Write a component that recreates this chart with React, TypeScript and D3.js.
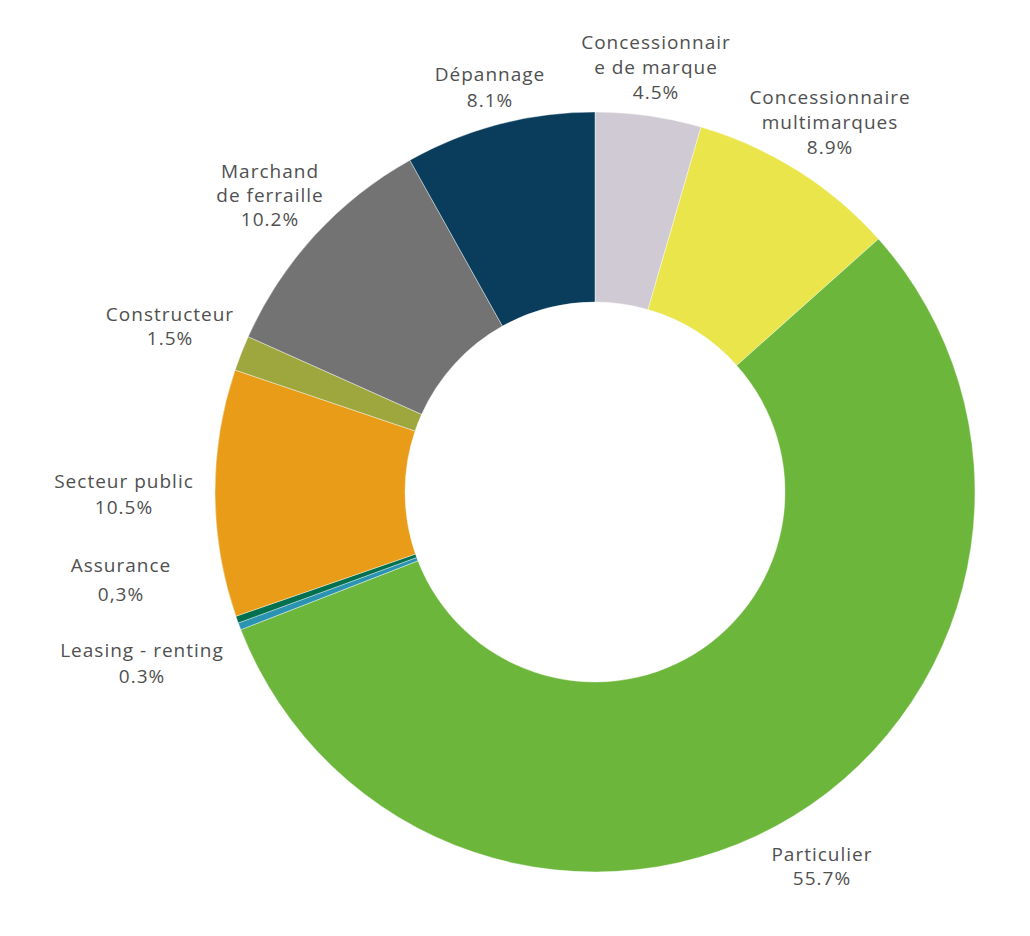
import React from 'react';
import * as d3 from 'd3';

// slices clockwise from 12 o'clock
const categories = [
  'Concessionnaire de marque',
  'Concessionnaire multimarques',
  'Particulier',
  'Leasing - renting',
  'Assurance',
  'Secteur public',
  'Constructeur',
  'Marchand de ferraille',
  'Dépannage',
];
const values = [4.5, 8.9, 55.7, 0.3, 0.3, 10.5, 1.5, 10.2, 8.1];
const valueLabels = ['4.5%', '8.9%', '55.7%', '0.3%', '0,3%', '10.5%', '1.5%', '10.2%', '8.1%'];
const labelLines = [
  ['Concessionnair', 'e de marque'],
  ['Concessionnaire', 'multimarques'],
  ['Particulier'],
  ['Leasing - renting'],
  ['Assurance'],
  ['Secteur public'],
  ['Constructeur'],
  ['Marchand', 'de ferraille'],
  ['Dépannage'],
];
const colors = ['#cfcad3', '#e9e54b', '#6cb73b', '#2a93b1', '#00704f', '#e89c17', '#9ea73e', '#737373', '#0a3d5c'];

// label placement (center x, first line y, line gap)
const labelPos: [number, number, number][] = [
  [656, 49, 25],
  [830, 104, 25],
  [822, 861, 24],
  [142, 657, 26],
  [121, 572, 29],
  [124, 488, 26],
  [170, 321, 24],
  [270, 178, 24],
  [490, 81, 26],
];

const width = 1030;
const height = 936;
const cx = 595;
const cy = 492;
const outerR = 380;
const innerR = 190;

export default function App() {
  const pie = d3.pie<number>().sort(null).value((d) => d);
  const arcs = pie(values);
  const arc = d3.arc<d3.PieArcDatum<number>>().innerRadius(innerR).outerRadius(outerR);

  return (
    <svg width={width} height={height} style={{ position: 'absolute', left: 0, top: 0 }}>
      <g transform={`translate(${cx},${cy})`}>
        {arcs.map((a, i) => (
          <path key={categories[i]} d={arc(a) || ''} fill={colors[i]} stroke="#fff" strokeWidth={0.4} />
        ))}
      </g>
      <g fontFamily="'Open Sans', sans-serif" fontSize={19} fill="#505050" textAnchor="middle" letterSpacing={1}>
        {labelLines.map((lines, i) => {
          const [x, y, gap] = labelPos[i];
          const all = [...lines, valueLabels[i]];
          return (
            <text key={categories[i]} x={x} y={y}>
              {all.map((t, j) => (
                <tspan key={j} x={x} y={y + j * gap}>{t}</tspan>
              ))}
            </text>
          );
        })}
      </g>
    </svg>
  );
}
